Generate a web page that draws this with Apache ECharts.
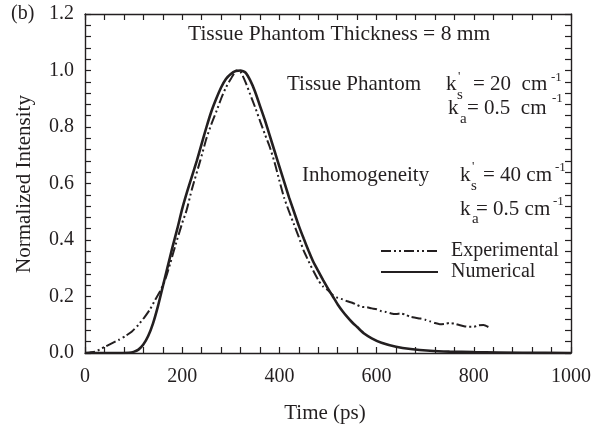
<!DOCTYPE html>
<html><head><meta charset="utf-8">
<script src="https://cdn.jsdelivr.net/npm/echarts@6/dist/echarts.min.js"></script>
<style>html,body{margin:0;padding:0;background:#fff}#c{width:614px;height:430px}</style>
</head><body><div id="c"></div>
<script>
// ---- data ----
const expTime = [0,10,21,30,41,55,69,83,96,110,123,134,144,155,165,175,185,200,209,220,237,250,260,271,280,290,300,312,320,330,340,350,360,370,380,390,400,410,420,430,440,450,460,470,480,490,500,510,520,530,540,550,560,570,580,590,600,610,620,630,640,650,660,670,680,690,700,710,720,730,740,750,760,770,780,790,800,810,820,830];
const expValue = [0,0.002,0.005,0.012,0.022,0.034,0.046,0.06,0.075,0.1,0.128,0.155,0.187,0.22,0.26,0.315,0.375,0.46,0.505,0.58,0.68,0.76,0.81,0.858,0.9,0.94,0.97,1.0,0.995,0.96,0.915,0.87,0.822,0.775,0.73,0.675,0.61,0.548,0.5,0.455,0.41,0.362,0.325,0.29,0.258,0.235,0.222,0.205,0.195,0.19,0.183,0.178,0.17,0.163,0.162,0.158,0.155,0.148,0.145,0.14,0.138,0.14,0.135,0.128,0.125,0.122,0.118,0.112,0.106,0.102,0.103,0.106,0.104,0.099,0.095,0.093,0.093,0.098,0.099,0.092];
const numTime = [0,60,90,100,110,120,130,140,150,160,170,180,190,200,210,220,230,240,250,260,270,280,290,300,310,320,330,340,350,360,370,380,390,400,410,420,430,440,450,460,470,480,490,500,510,520,530,540,550,560,575,590,610,640,670,710,750,800,900,1000];
const numValue = [0,0,0.001,0.004,0.012,0.03,0.06,0.105,0.165,0.235,0.305,0.375,0.44,0.51,0.57,0.625,0.68,0.74,0.8,0.855,0.9,0.94,0.97,0.988,0.998,1.0,0.993,0.965,0.925,0.875,0.825,0.77,0.715,0.66,0.605,0.55,0.5,0.45,0.405,0.362,0.322,0.29,0.258,0.228,0.2,0.172,0.148,0.127,0.108,0.092,0.068,0.052,0.036,0.022,0.014,0.008,0.005,0.003,0.001,0];
const seriesNames = ['Experimental', 'Numerical'];
const xTitle = 'Time (ps)';
const yTitle = 'Normalized Intensity';

// ---- styling ----
const FONT = 'Liberation Serif';
const INK = '#231f20';
const zip = (a, b) => a.map((v, i) => [v, b[i]]);

// annotations: [text, x, centerY, fontSize]
const notes = [
  ['(b)', 11, 14, 20],
  ['Tissue Phantom Thickness = 8 mm', 188, 34, 21.5],
  ['Tissue Phantom', 287, 84, 21],
  ['k', 446, 84, 21], ["'", 458, 77, 13], ['s', 457, 95, 15], ['= 20  cm', 473, 84, 21], ['-1', 551, 78, 13],
  ['k', 448, 108, 21], ['a', 460, 119, 15], ['= 0.5  cm', 467, 108, 21], ['-1', 552, 99, 13],
  ['Inhomogeneity', 302, 175, 21],
  ['k', 460, 175, 21], ["'", 472, 167, 13], ['s', 471, 186, 15], ['= 40 cm', 483, 175, 21], ['-1', 555, 168, 13],
  ['k', 460, 209, 21], ['a', 472, 219, 15], ['= 0.5 cm', 476, 209, 21], ['-1', 553, 202, 13]
];

function tick() { return { show: true, inside: true, length: 6, lineStyle: { color: INK, width: 1.2 } }; }
function minor() { return { show: true, splitNumber: 5, length: 6, lineStyle: { color: INK, width: 1.2 } }; }
function line(onZero) { return { show: true, onZero: onZero, lineStyle: { color: INK, width: 1.4 } }; }
function label() { return { color: INK, fontFamily: FONT, fontSize: 20 }; }

const chart = echarts.init(document.getElementById('c'));
const graphics = notes.map(n => ({
  type: 'text', left: n[1], top: n[2] - n[3] / 2,
  style: { text: n[0], fill: INK, font: n[3] + 'px "' + FONT + '"' }
}));
graphics.push({
  type: 'text', x: 325, y: 413,
  style: { text: xTitle, fill: INK, font: '21px "' + FONT + '"', align: 'center', verticalAlign: 'middle' }
});
graphics.push({
  type: 'text', x: 24, y: 184, rotation: Math.PI / 2,
  style: { text: yTitle, fill: INK, font: '21px "' + FONT + '"', align: 'center', verticalAlign: 'middle' }
});

chart.setOption({
  animation: false,
  backgroundColor: '#fff',
  grid: { left: 85, right: 43, top: 14, bottom: 77 },
  legend: {
    orient: 'vertical', left: 375, top: 236, itemGap: 1,
    itemWidth: 57, itemHeight: 14,
    itemStyle: { opacity: 0 },
    textStyle: { color: INK, fontFamily: FONT, fontSize: 20, padding: [0, 0, 0, 8] },
    data: seriesNames
  },
  xAxis: [
    {
      type: 'value', min: 0, max: 1000, interval: 200,
      axisLine: line(true), axisTick: tick(), minorTick: minor(), splitLine: { show: false },
      axisLabel: Object.assign(label(), { margin: 14, formatter: v => String(v) })
    },
    {
      type: 'value', min: 0, max: 1000, interval: 200, position: 'top',
      axisLine: line(false), axisTick: tick(), minorTick: minor(), splitLine: { show: false },
      axisLabel: { show: false }
    }
  ],
  yAxis: [
    {
      type: 'value', min: 0, max: 1.2, interval: 0.2,
      axisLine: line(true), axisTick: tick(), minorTick: minor(), splitLine: { show: false },
      axisLabel: Object.assign(label(), { margin: 11, formatter: v => v.toFixed(1) })
    },
    {
      type: 'value', min: 0, max: 1.2, interval: 0.2, position: 'right',
      axisLine: line(false), axisTick: tick(), minorTick: minor(), splitLine: { show: false },
      axisLabel: { show: false }
    }
  ],
  series: [
    {
      name: seriesNames[0], type: 'line', xAxisIndex: 0, yAxisIndex: 0,
      data: zip(expTime, expValue), symbol: 'none', smooth: 0.2,
      lineStyle: { color: INK, width: 2, type: [10, 3, 2, 3, 2, 3] },
      itemStyle: { color: INK }, z: 3
    },
    {
      name: seriesNames[1], type: 'line', xAxisIndex: 0, yAxisIndex: 0,
      data: zip(numTime, numValue), symbol: 'none', smooth: 0.2,
      lineStyle: { color: INK, width: 2.6, type: 'solid' },
      itemStyle: { color: INK }, z: 2
    }
  ],
  graphic: graphics
});
</script>
</body></html>
